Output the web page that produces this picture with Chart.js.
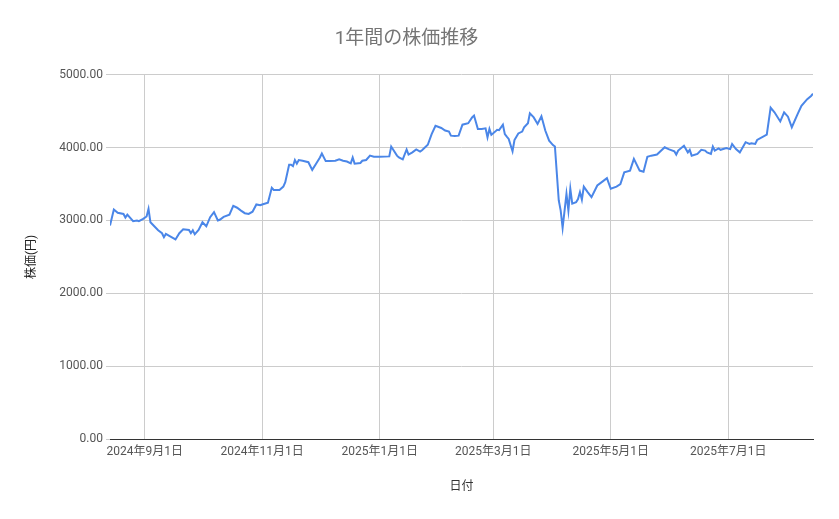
<!DOCTYPE html>
<html lang="ja">
<head>
<meta charset="utf-8">
<title>1年間の株価推移</title>
<script src="https://cdn.jsdelivr.net/npm/chart.js@4.4.0/dist/chart.umd.min.js"></script>
<style>
  html, body { margin: 0; padding: 0; background: #fff; }
  #wrap { width: 839px; height: 519px; }
</style>
</head>
<body>
<div id="wrap"><canvas id="priceChart" width="839" height="519"></canvas></div>
<script>
// days since 2024-08-14 (start of the period)
const days = [0,2,4,7,8,9,12,14,15,17,19,20,21,23,25,27,28,29,31,34,36,38,41,42,43,44,46,48,50,52,54,56,57,59,62,64,66,68,70,72,74,76,78,79,82,84,85,88,90,91,93,94,95,96,97,98,100,103,105,107,109,110,112,114,117,119,121,123,125,126,127,130,131,133,135,137,140,145,146,149,150,152,154,155,157,159,161,162,165,167,169,172,174,176,177,179,181,183,186,188,189,191,193,195,196,197,198,200,201,202,204,205,206,207,209,210,212,214,215,217,218,220,222,224,226,228,230,231,233,234,235,237,238,239,240,242,243,244,245,246,248,250,253,256,258,260,263,265,267,270,272,275,277,279,281,284,288,290,293,294,295,298,300,301,302,305,307,309,310,312,313,314,316,317,320,322,323,325,327,330,332,333,335,336,341,343,345,348,350,352,354,357,359,362,364,365];

// closing price (yen)
const prices = [2930,3150,3105,3090,3040,3080,2990,3000,2990,3020,3055,3160,2975,2920,2865,2825,2770,2815,2785,2740,2825,2880,2870,2825,2865,2810,2870,2975,2920,3045,3115,3000,3010,3050,3080,3200,3175,3135,3100,3090,3120,3220,3210,3220,3245,3450,3420,3420,3465,3525,3765,3765,3745,3830,3780,3830,3820,3800,3695,3780,3865,3920,3815,3815,3820,3840,3820,3810,3785,3865,3780,3790,3820,3830,3890,3875,3875,3880,4015,3890,3865,3840,3975,3905,3935,3975,3945,3965,4040,4185,4300,4270,4235,4220,4165,4160,4165,4315,4335,4415,4440,4255,4255,4265,4140,4255,4175,4220,4245,4240,4315,4185,4150,4120,3950,4105,4195,4220,4280,4335,4470,4415,4325,4430,4235,4095,4035,4015,3275,3135,2900,3365,3135,3435,3230,3250,3295,3390,3285,3465,3390,3320,3480,3540,3580,3435,3465,3500,3660,3685,3845,3685,3670,3875,3890,3905,4005,3980,3950,3905,3960,4025,3935,3970,3890,3915,3970,3960,3935,3915,4015,3960,3990,3970,3995,3980,4050,3980,3935,4075,4050,4060,4050,4105,4180,4550,4485,4360,4485,4425,4280,4460,4575,4665,4710,4740];

// x axis tick positions (days since 2024-08-14) and their labels
const tickDays = [18, 79, 140, 199, 260, 321];
const tickLabels = ["2024年9月1日", "2024年11月1日", "2025年1月1日", "2025年3月1日", "2025年5月1日", "2025年7月1日"];

const points = days.map((d, i) => ({ x: d, y: prices[i] }));

Chart.defaults.font.family = "Roboto, 'Noto Sans CJK JP', sans-serif";
Chart.defaults.font.size = 12;
Chart.defaults.color = "#555";

new Chart(document.getElementById("priceChart"), {
    type: "line",
    data: {
        datasets: [{
            label: "株価",
            data: points,
            borderColor: "#4a86e8",
            borderWidth: 2,
            pointRadius: 0,
            tension: 0,
            fill: false
        }]
    },
    options: {
        responsive: false,
        animation: false,
        devicePixelRatio: 1,
        layout: { padding: { left: 0, right: 26, top: 0, bottom: 0 } },
        plugins: {
            legend: { display: false },
            tooltip: { enabled: false },
            title: {
                display: true,
                text: "1年間の株価推移",
                color: "#757575",
                font: { size: 19, weight: "normal" },
                padding: { top: 28, bottom: 24 }
            }
        },
        scales: {
            x: {
                type: "linear",
                min: 0,
                max: 365,
                afterBuildTicks: scale => {
                    scale.ticks = tickDays.map(v => ({ value: v }));
                },
                afterFit: scale => { scale.height = 80; },
                ticks: {
                    padding: 6,
                    maxRotation: 0,
                    autoSkip: false,
                    color: "#555",
                    callback: value => tickLabels[tickDays.indexOf(value)]
                },
                grid: { color: "#cccccc", drawTicks: false },
                border: { color: "#333", width: 1 },
                title: {
                    display: true,
                    text: "日付",
                    color: "#333",
                    font: { size: 12 },
                    padding: { top: 0, bottom: 25 }
                }
            },
            y: {
                min: 0,
                max: 5000,
                afterFit: scale => { scale.width = 110; },
                ticks: {
                    stepSize: 1000,
                    padding: 3,
                    color: "#555",
                    callback: value => value.toFixed(2)
                },
                grid: { color: "#cccccc", tickLength: 4 },
                border: { display: false },
                title: {
                    display: true,
                    text: "株価(円)",
                    color: "#222",
                    font: { size: 12 },
                    padding: { top: 25, bottom: 0 }
                }
            }
        }
    }
});
</script>
</body>
</html>
